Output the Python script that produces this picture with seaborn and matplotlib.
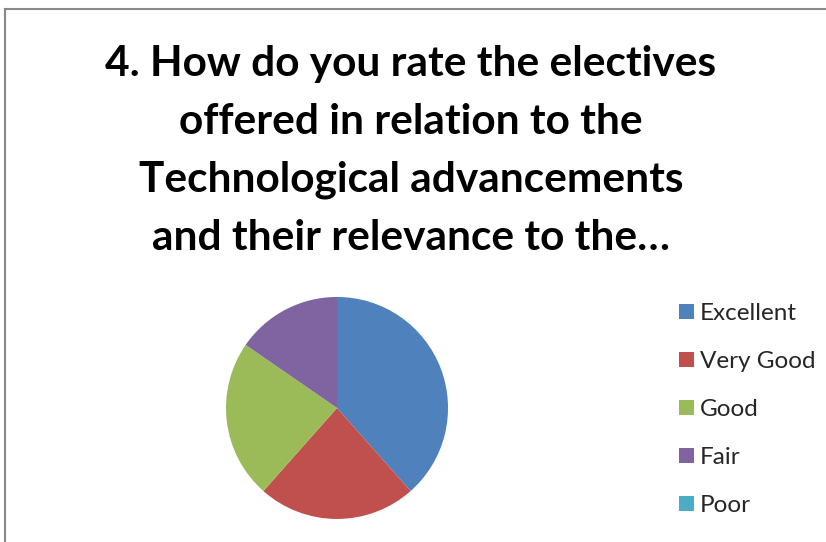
import matplotlib
matplotlib.use("Agg")
import matplotlib.pyplot as plt
import seaborn as sns
from matplotlib.patches import Rectangle, Patch

# --- データ ---
categories = ["Excellent", "Very Good", "Good", "Fair", "Poor"]
counts = [5, 3, 3, 2, 0]
colors = ["#4F81BD", "#C0504D", "#9BBB59", "#8064A2", "#4BACC6"]
title_lines = [
    "4. How do you rate the electives",
    "offered in relation to the",
    "Technological advancements",
    "and their relevance to the…",
]

sns.set_theme(style="white")
plt.rcParams['font.family'] = ['Lato', 'DejaVu Sans']

fig = plt.figure(figsize=(8.26, 5.42), dpi=100)

# 枠線
fig.patches.append(Rectangle((5 / 826, -0.1), 1.2, 1.1 - 9 / 542,
                             transform=fig.transFigure, fill=False,
                             edgecolor="#888888", linewidth=1.5))

# タイトル
for i, line in enumerate(title_lines):
    y_px = 64 + i * 58
    fig.text(411 / 826, 1 - y_px / 542, line, ha="center", va="center",
             fontsize=30.5, fontweight="bold", color="black")

# 円グラフ
ax = fig.add_axes([0.2736, 0.0425, 0.2688, 0.4096])
wedges, _ = ax.pie(counts, colors=colors, startangle=90, counterclock=False,
                   radius=1.0, wedgeprops=dict(linewidth=0))
ax.set_xlim(-1, 1)
ax.set_ylim(-1, 1)
ax.set_aspect("auto")
ax.axis("off")

# 凡例
handles = [Patch(facecolor=c, edgecolor="none") for c in colors]
leg = fig.legend(handles, categories, loc="upper left",
                 bbox_to_anchor=(667 / 826, 1 - 291 / 542), frameon=False,
                 fontsize=17.5, handlelength=0.62, handleheight=0.62,
                 handletextpad=0.22, labelspacing=1.11, borderpad=0)

fig.savefig("out.png", dpi=100)
